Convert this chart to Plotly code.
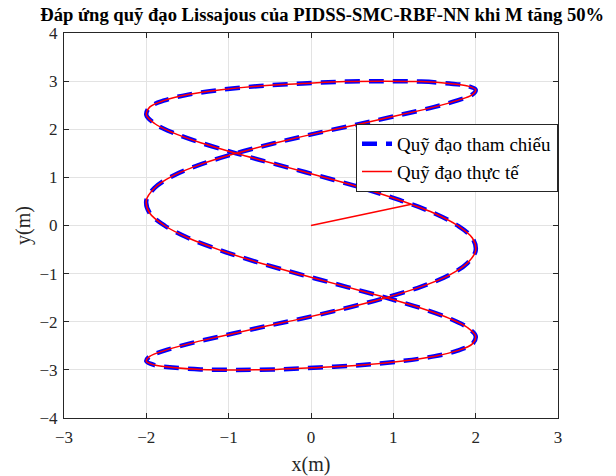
import plotly.graph_objects as go

# Reference Lissajous trajectory
ref_x = [0.91, 1.34, 1.68, 1.90, 2.00, 1.96, 1.78, 1.49, 1.09, 0.62, 0.10, -0.42,
         -0.91, -1.34, -1.68, -1.90, -2.00, -1.96, -1.78, -1.49, -1.09, -0.62, -0.10, 0.42,
         0.91, 1.34, 1.68, 1.90, 2.00, 1.96, 1.78, 1.49, 1.09, 0.62, 0.10, -0.42,
         -0.91, -1.34, -1.68, -1.90, -2.00, -1.96, -1.78, -1.49, -1.09, -0.62, -0.10, 0.42,
         0.91, 1.34, 1.68, 1.90, 2.00, 1.96, 1.78, 1.49, 1.09, 0.62, 0.10, -0.42,
         -0.91, -1.34, -1.68, -1.90, -2.00, -1.96, -1.78, -1.49, -1.09, -0.62, -0.10, 0.42,
         0.91]
ref_y = [3.00, 2.99, 2.95, 2.90, 2.82, 2.72, 2.60, 2.46, 2.30, 2.12, 1.93, 1.72,
         1.50, 1.27, 1.03, 0.78, 0.52, 0.26, 0.00, -0.26, -0.52, -0.78, -1.03, -1.27,
         -1.50, -1.72, -1.93, -2.12, -2.30, -2.46, -2.60, -2.72, -2.82, -2.90, -2.95, -2.99,
         -3.00, -2.99, -2.95, -2.90, -2.82, -2.72, -2.60, -2.46, -2.30, -2.12, -1.93, -1.72,
         -1.50, -1.27, -1.03, -0.78, -0.52, -0.26, 0.00, 0.26, 0.52, 0.78, 1.03, 1.27,
         1.50, 1.72, 1.93, 2.12, 2.30, 2.46, 2.60, 2.72, 2.82, 2.90, 2.95, 2.99,
         3.00]

trans_x = [0.00, 1.22]
trans_y = [0.00, 0.44]

act_x = [1.22, 1.49, 1.78, 1.96, 2.00, 1.90, 1.68, 1.34, 0.91, 0.42, -0.10, -0.62, -1.09,
         -1.49, -1.78, -1.96, -2.00, -1.90, -1.68, -1.34, -0.91, -0.42, 0.10, 0.62, 1.09,
         1.49, 1.78, 1.96, 2.00, 1.90, 1.68, 1.34, 0.91, 0.42, -0.10, -0.62, -1.09,
         -1.49, -1.78, -1.96, -2.00, -1.90, -1.68, -1.34, -0.91, -0.42, 0.10, 0.62, 1.09,
         1.49, 1.78, 1.96, 2.00, 1.90, 1.68, 1.34, 0.91, 0.42, -0.10, -0.62, -1.09,
         -1.49, -1.78, -1.96, -2.00, -1.90, -1.68, -1.34, -0.91, -0.42, 0.10, 0.62, 1.09,
         1.22]
act_y = [0.44, 0.26, 0.00, -0.26, -0.52, -0.78, -1.03, -1.27, -1.50, -1.72, -1.93, -2.12, -2.30,
         -2.46, -2.60, -2.72, -2.82, -2.90, -2.95, -2.99, -3.00, -2.99, -2.95, -2.90, -2.82,
         -2.72, -2.60, -2.46, -2.30, -2.12, -1.93, -1.72, -1.50, -1.27, -1.03, -0.78, -0.52,
         -0.26, 0.00, 0.26, 0.52, 0.78, 1.03, 1.27, 1.50, 1.72, 1.93, 2.12, 2.30,
         2.46, 2.60, 2.72, 2.82, 2.90, 2.95, 2.99, 3.00, 2.99, 2.95, 2.90, 2.82, 2.72, 2.60,
         2.46, 2.30, 2.12, 1.93, 1.72, 1.50, 1.27, 1.03, 0.78, 0.52,
         0.44]

xticks = [-3, -2, -1, 0, 1, 2, 3]
yticks = [-4, -3, -2, -1, 0, 1, 2, 3, 4]

FONT = "Liberation Serif"
AX = "#262626"

fig = go.Figure()
fig.add_trace(go.Scatter(x=ref_x, y=ref_y, mode="lines", name="Quỹ đạo tham chiếu",
                         line=dict(color="#0000ff", width=4.5, dash="15px,9px", shape="spline")))
fig.add_trace(go.Scatter(x=act_x, y=act_y, mode="lines", name="Quỹ đạo thực tế",
                         legendgroup="act",
                         line=dict(color="#ff0000", width=1.5, shape="spline")))
fig.add_trace(go.Scatter(x=trans_x, y=trans_y, mode="lines", showlegend=False,
                         legendgroup="act",
                         line=dict(color="#ff0000", width=1.5)))

axis_common = dict(showgrid=True, gridcolor="#e3e3e3", gridwidth=1, zeroline=False,
                   showline=True, linecolor=AX, linewidth=1, mirror="ticks",
                   ticks="inside", ticklen=5, tickcolor=AX, automargin=False,
                   tickfont=dict(family=FONT, size=17, color=AX))

fig.update_xaxes(range=[-3, 3], tickvals=xticks, ticklabelstandoff=4,
                 title=dict(text="x(m)", font=dict(family=FONT, size=20, color=AX), standoff=11),
                 **axis_common)
fig.update_yaxes(range=[-4, 4], tickvals=yticks, ticklabelstandoff=2,
                 title=dict(text="y(m)", font=dict(family=FONT, size=20, color=AX), standoff=3),
                 **axis_common)

fig.update_layout(
    width=616, height=476,
    margin=dict(l=64, r=58, t=33, b=58),
    paper_bgcolor="white", plot_bgcolor="white",
    title=dict(text="<b>Đáp ứng quỹ đạo Lissajous của PIDSS-SMC-RBF-NN khi M tăng 50%</b>",
               x=0.523, xanchor="center", xref="container", y=0.970, yanchor="middle",
               font=dict(family=FONT, size=18.6, color="black")),
    legend=dict(x=1, xanchor="right", y=0.764, yanchor="top",
                bgcolor="white", bordercolor=AX, borderwidth=1,
                font=dict(family=FONT, size=19, color="black"),
                tracegroupgap=0),
    showlegend=True,
)

fig.write_html("out.html")
